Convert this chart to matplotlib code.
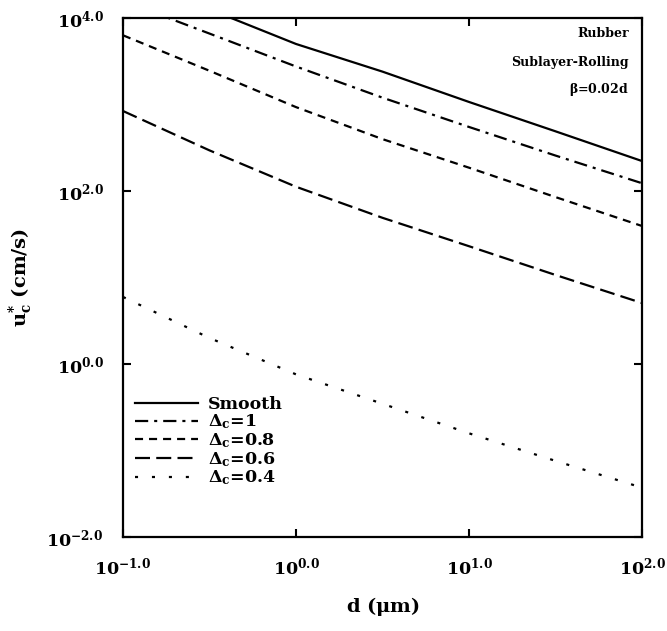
import matplotlib
matplotlib.use("Agg")
import matplotlib.pyplot as plt
from matplotlib.ticker import FixedLocator, NullLocator

plt.rcParams['font.family'] = ['DejaVu Serif']
plt.rcParams['font.weight'] = 'bold'
plt.rcParams['axes.labelweight'] = 'bold'
plt.rcParams['mathtext.fontset'] = 'dejavuserif'
plt.rcParams['mathtext.default'] = 'bf'
plt.rcParams['lines.scale_dashes'] = False

# Data
d_um = [0.1, 0.316, 1.0, 3.16, 10.0, 31.6, 100.0]
u_smooth = [31600, 12600, 5010, 2400, 1070, 490, 222]
u_dc10 = [15800, 6610, 2750, 1200, 550, 257, 123]
u_dc08 = [6310, 2455, 933, 398, 186, 85.1, 39.4]
u_dc06 = [841, 295, 112, 49.0, 23.0, 10.7, 5.07]
u_dc04 = [5.96, 2.0, 0.759, 0.347, 0.158, 0.0759, 0.0372]

series_labels = ['Smooth', r'$\Delta_{c}$=1', r'$\Delta_{c}$=0.8',
                 r'$\Delta_{c}$=0.6', r'$\Delta_{c}$=0.4']

xticks = [0.1, 1, 10, 100]
xticklabels = [r'$10^{-1.0}$', r'$10^{0.0}$', r'$10^{1.0}$', r'$10^{2.0}$']
yticks = [0.01, 1, 100, 10000]
yticklabels = [r'$10^{-2.0}$', r'$10^{0.0}$', r'$10^{2.0}$', r'$10^{4.0}$']

annotations = ['Rubber', 'Sublayer-Rolling', r'$\beta$=0.02d']

fig = plt.figure(figsize=(6.67, 6.31), dpi=100)
ax = fig.add_axes([123/667, 1 - 537/631, (642-123)/667, (537-18)/631])

lw = 1.6
ax.plot(d_um, u_smooth, color='black', lw=lw, linestyle='-', label=series_labels[0])
ax.plot(d_um, u_dc10, color='black', lw=lw, linestyle=(0, (9.5, 4.3, 2.2, 4.3)), label=series_labels[1])
ax.plot(d_um, u_dc08, color='black', lw=lw, linestyle=(0, (5.8, 4.3)), label=series_labels[2])
ax.plot(d_um, u_dc06, color='black', lw=lw, linestyle=(0, (10.8, 4.5)), label=series_labels[3])
ax.plot(d_um, u_dc04, color='black', lw=lw, linestyle=(0, (2.2, 10)), label=series_labels[4])

ax.set_xscale('log')
ax.set_yscale('log')
ax.set_xlim(0.1, 100)
ax.set_ylim(0.01, 10000)

ax.xaxis.set_major_locator(FixedLocator(xticks))
ax.yaxis.set_major_locator(FixedLocator(yticks))
ax.xaxis.set_minor_locator(NullLocator())
ax.yaxis.set_minor_locator(NullLocator())
ax.set_xticklabels(xticklabels, fontsize=12.5)
ax.set_yticklabels(yticklabels, fontsize=12.5)
ax.tick_params(which='major', direction='in', length=6, width=1.5,
               top=True, right=True, pad=14)

for s in ax.spines.values():
    s.set_linewidth(1.6)

ax.set_xlabel(r'd ($\mu$m)', fontsize=14, fontweight='bold', labelpad=12)
ax.set_ylabel(r'u$_{c}^{*}$ (cm/s)', fontsize=14, fontweight='bold', labelpad=8)

ys = [0.97, 0.915, 0.862]
for txt, yy in zip(annotations, ys):
    ax.text(0.975, yy, txt, transform=ax.transAxes, ha='right', va='center',
            fontsize=9, fontweight='bold')

leg = ax.legend(loc='lower left', bbox_to_anchor=(0.0, 0.072), frameon=False,
                fontsize=12.5, handlelength=3.6, labelspacing=0.0,
                handletextpad=0.6, borderaxespad=0.3)

fig.savefig('out.png', dpi=100)
